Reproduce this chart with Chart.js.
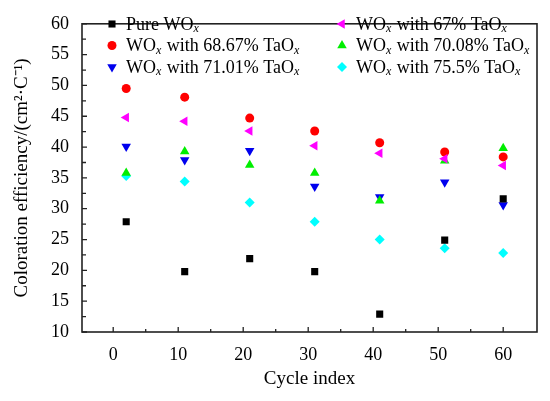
<!DOCTYPE html>
<html>
<head>
<meta charset="utf-8">
<script src="https://cdn.jsdelivr.net/npm/chart.js@4.4.0/dist/chart.umd.min.js"></script>
<style>
  body { margin: 0; background: #fff; }
  #wrap { width: 550px; height: 401px; }
</style>
</head>
<body>
<div id="wrap"><canvas id="chart"></canvas></div>
<script>
// cycle index of each measurement
const cycles = [2, 11, 21, 31, 41, 51, 60];

// coloration efficiency (cm2/C)
const pureWO  = [27.9, 19.8, 21.9, 19.8, 12.9, 24.9, 31.6];
const ta67    = [44.8, 44.2, 42.6, 40.2, 39.0, 38.1, 37.0];
const ta6867  = [49.5, 48.1, 44.7, 42.6, 40.7, 39.2, 38.4];
const ta7008  = [35.8, 39.3, 37.1, 35.8, 31.3, 37.8, 39.8];
const ta7101  = [40.1, 37.9, 39.4, 33.6, 31.9, 34.3, 30.6];
const ta755   = [35.3, 34.4, 31.0, 27.9, 25.0, 23.6, 22.8];

const seriesNames = [
  'Pure WO_x',
  'WO_x with 67% TaO_x',
  'WO_x with 68.67% TaO_x',
  'WO_x with 70.08% TaO_x',
  'WO_x with 71.01% TaO_x',
  'WO_x with 75.5% TaO_x'
];

const xTicks = [0, 10, 20, 30, 40, 50, 60];
const yTicks = [10, 15, 20, 25, 30, 35, 40, 45, 50, 55, 60];

const FONT = "'Liberation Serif', 'Times New Roman', serif";

const toPts = arr => arr.map((v, i) => ({ x: cycles[i], y: v }));

const styles = [
  { color: '#000000', pointStyle: 'rect',     radius: 5,   rotation: 0 },
  { color: '#ff00ff', pointStyle: 'triangle', radius: 5.5, rotation: 270 },
  { color: '#ff0000', pointStyle: 'circle',   radius: 4.5, rotation: 0 },
  { color: '#00ee00', pointStyle: 'triangle', radius: 5.5, rotation: 0 },
  { color: '#0000ee', pointStyle: 'triangle', radius: 5.5, rotation: 180 },
  { color: '#00ffff', pointStyle: 'rectRot',  radius: 5,   rotation: 0 }
];

const values = [pureWO, ta67, ta6867, ta7008, ta7101, ta755];

const datasets = values.map((v, i) => ({
  label: seriesNames[i],
  data: toPts(v),
  backgroundColor: styles[i].color,
  borderWidth: 0,
  pointStyle: styles[i].pointStyle,
  pointRadius: styles[i].radius,
  pointRotation: styles[i].rotation,
  order: i
}));

// draws "WO_x" style text with italic subscript x
function drawRich(ctx, text, x, y) {
  const parts = text.split('_x');
  let cx = x;
  parts.forEach((p, i) => {
    ctx.font = '18px ' + FONT;
    ctx.fillText(p, cx, y);
    cx += ctx.measureText(p).width;
    if (i < parts.length - 1) {
      ctx.font = 'italic 12px ' + FONT;
      ctx.fillText('x', cx, y + 4);
      cx += ctx.measureText('x').width + 1;
    }
  });
}

const frame = {
  id: 'frame',
  afterDraw(chart) {
    const { ctx, chartArea: a, scales: { x, y } } = chart;
    ctx.save();
    ctx.strokeStyle = '#222';
    ctx.lineWidth = 1.6;
    ctx.strokeRect(a.left, a.top, a.right - a.left, a.bottom - a.top);

    // inward ticks, minor ones half way between majors
    ctx.lineWidth = 1.3;
    ctx.beginPath();
    for (let i = 0; i < xTicks.length; i++) {
      const px = x.getPixelForValue(xTicks[i]);
      ctx.moveTo(px, a.bottom); ctx.lineTo(px, a.bottom - 5);
      if (i < xTicks.length - 1) {
        const mx = x.getPixelForValue((xTicks[i] + xTicks[i + 1]) / 2);
        ctx.moveTo(mx, a.bottom); ctx.lineTo(mx, a.bottom - 3);
      }
    }
    for (let i = 0; i < yTicks.length; i++) {
      const py = y.getPixelForValue(yTicks[i]);
      ctx.moveTo(a.left, py); ctx.lineTo(a.left + 5, py);
      if (i < yTicks.length - 1) {
        const my = y.getPixelForValue((yTicks[i] + yTicks[i + 1]) / 2);
        ctx.moveTo(a.left, my); ctx.lineTo(a.left + 4, my);
      }
    }
    ctx.stroke();

    // legend, two columns
    ctx.textBaseline = 'middle';
    ctx.textAlign = 'left';
    chart.data.datasets.forEach((ds, i) => {
      const col = i % 2, row = Math.floor(i / 2);
      const mx = col === 0 ? 112 : 342;
      const my = 24 + row * 21.5;
      ctx.fillStyle = ds.backgroundColor;
      Chart.helpers.drawPoint(ctx, {
        pointStyle: ds.pointStyle, radius: ds.pointRadius,
        rotation: ds.pointRotation, borderWidth: 0
      }, mx, my);
      ctx.fillStyle = '#000';
      drawRich(ctx, ds.label, mx + 14, my + 1);
    });
    ctx.restore();
  }
};

new Chart(document.getElementById('chart'), {
  type: 'scatter',
  data: { datasets: datasets },
  options: {
    responsive: true,
    maintainAspectRatio: false,
    animation: false,
    layout: { padding: { top: 14, right: 13, left: 0, bottom: 0 } },
    plugins: { legend: { display: false }, tooltip: { enabled: false } },
    scales: {
      x: {
        type: 'linear',
        min: -4.8,
        max: 65.2,
        afterBuildTicks: s => { s.ticks = xTicks.map(v => ({ value: v })); },
        afterFit: s => { s.height = 69; },
        grid: { display: false, drawTicks: false },
        border: { display: false },
        ticks: { color: '#000', padding: 12, font: { family: FONT, size: 18 } },
        title: { display: true, text: 'Cycle index', color: '#000',
                 padding: { top: 0, bottom: 11 }, font: { family: FONT, size: 19 } }
      },
      y: {
        min: 10,
        max: 60,
        afterBuildTicks: s => { s.ticks = yTicks.map(v => ({ value: v })); },
        afterFit: s => { s.width = 82; },
        grid: { display: false, drawTicks: false },
        border: { display: false },
        ticks: { color: '#000', padding: 13, font: { family: FONT, size: 18 } },
        title: { display: true, text: 'Coloration efficiency/(cm²·C⁻¹)', color: '#000',
                 padding: { top: 11, bottom: 0 }, font: { family: FONT, size: 19 } }
      }
    }
  },
  plugins: [frame]
});
</script>
</body>
</html>
